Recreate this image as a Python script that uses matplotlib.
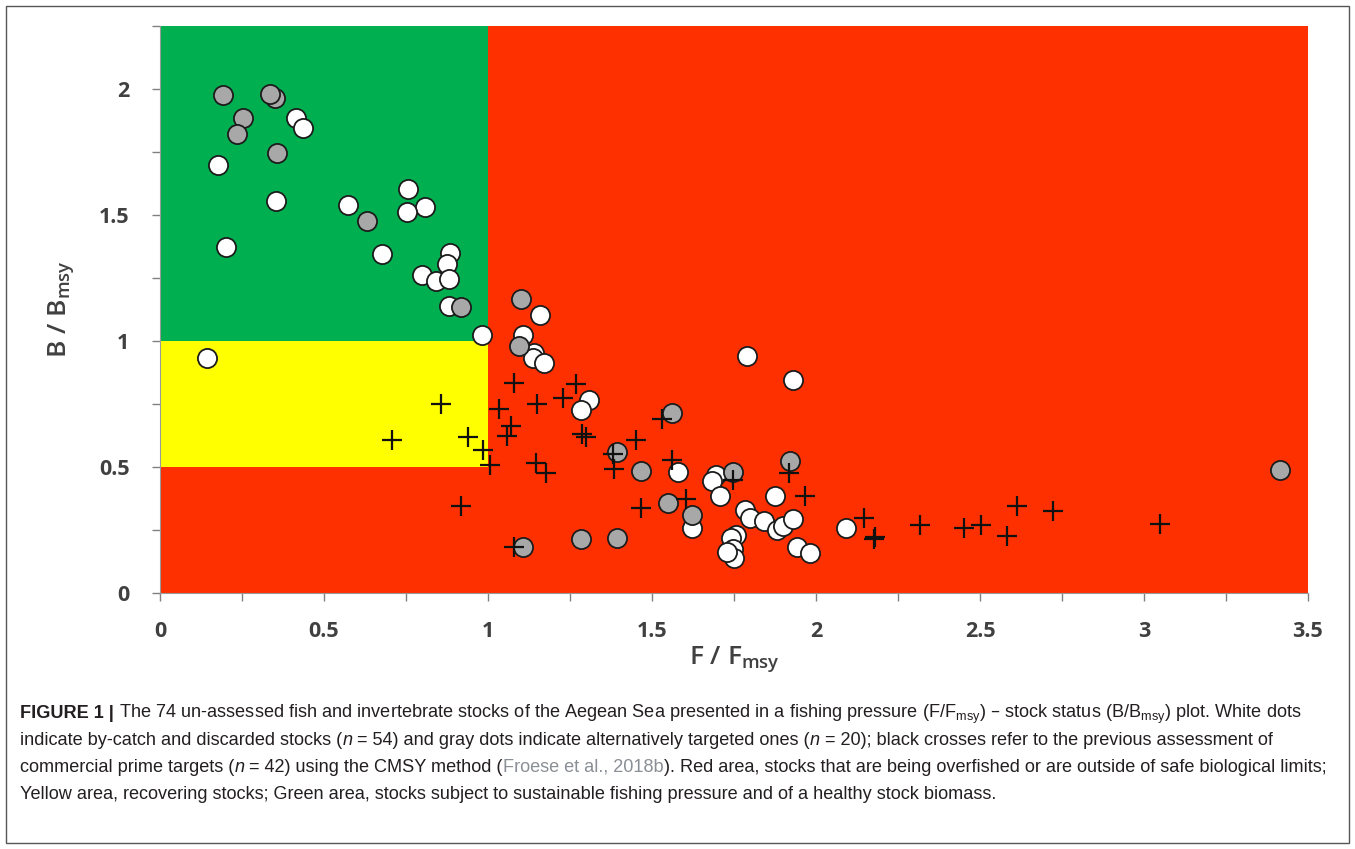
import numpy as np
import matplotlib
matplotlib.use("Agg")
import matplotlib.pyplot as plt
from matplotlib import font_manager
from matplotlib.patches import Rectangle

# --- data (F/Fmsy, B/Bmsy) ---
white_f = [0.414, 0.436, 0.178, 0.353, 0.573, 0.756, 0.807, 0.753, 0.201, 0.678,
           0.885, 0.874, 0.800, 0.840, 0.880, 0.880, 0.982, 0.144, 1.160, 1.106,
           1.141, 1.136, 1.172, 1.309, 1.283, 1.578, 1.623, 1.789, 1.930, 1.696,
           1.682, 1.706, 1.875, 1.785, 1.800, 1.840, 1.880, 1.900, 1.930, 1.755,
           1.740, 1.747, 1.750, 1.730, 1.943, 1.983, 2.092]
white_b = [1.883, 1.847, 1.700, 1.556, 1.540, 1.605, 1.530, 1.510, 1.375, 1.344,
           1.351, 1.304, 1.260, 1.238, 1.245, 1.138, 1.023, 0.933, 1.103, 1.022,
           0.953, 0.933, 0.913, 0.767, 0.728, 0.482, 0.257, 0.940, 0.847, 0.469,
           0.443, 0.383, 0.383, 0.330, 0.297, 0.284, 0.250, 0.264, 0.293, 0.231,
           0.218, 0.174, 0.138, 0.164, 0.184, 0.158, 0.257]

gray_f = [0.193, 0.350, 0.335, 0.254, 0.235, 0.357, 0.631, 0.918, 1.100, 1.096,
          1.562, 1.392, 1.466, 1.549, 1.623, 1.108, 1.283, 1.392, 1.922, 1.747,
          3.415]
gray_b = [1.976, 1.963, 1.980, 1.883, 1.820, 1.746, 1.476, 1.136, 1.165, 0.979,
          0.714, 0.558, 0.485, 0.357, 0.310, 0.184, 0.215, 0.220, 0.522, 0.482,
          0.489]

cross_f = [0.708, 0.857, 0.940, 0.984, 1.005, 0.918, 1.078, 1.268, 1.033, 1.148,
           1.230, 1.070, 1.057, 1.288, 1.300, 1.532, 1.450, 1.380, 1.146, 1.177,
           1.385, 1.562, 1.466, 1.603, 1.080, 1.917, 1.747, 1.966, 2.146, 2.177,
           2.180, 2.318, 2.450, 2.504, 2.582, 2.612, 2.724, 3.050]
cross_b = [0.606, 0.751, 0.619, 0.566, 0.509, 0.346, 0.834, 0.831, 0.730, 0.751,
           0.774, 0.664, 0.622, 0.630, 0.620, 0.690, 0.606, 0.553, 0.516, 0.476,
           0.492, 0.529, 0.337, 0.373, 0.182, 0.476, 0.449, 0.386, 0.297, 0.213,
           0.224, 0.270, 0.257, 0.270, 0.227, 0.346, 0.326, 0.274]

x_ticks = [0, 0.5, 1, 1.5, 2, 2.5, 3, 3.5]
x_tick_labels = ["0", "0.5", "1", "1.5", "2", "2.5", "3", "3.5"]
y_ticks = [0, 0.5, 1, 1.5, 2]
y_tick_labels = ["0", "0.5", "1", "1.5", "2"]

RED = "#FF3000"
GREEN = "#00B050"
YELLOW = "#FFFF00"
TXT = "#404040"

names = {f.name for f in font_manager.fontManager.ttflist}
cap_font = "Liberation Sans Narrow" if "Liberation Sans Narrow" in names else "Liberation Sans"
tick_font = "Open Sans"

fig = plt.figure(figsize=(13.55, 8.49), dpi=100)
W, H = 1355, 849
ax = fig.add_axes([160 / W, 1 - 593 / H, (1308 - 160) / W, (593 - 26) / H])

xmax, ymax = 3.5, 2.25
ax.set_xlim(0, xmax)
ax.set_ylim(0, ymax)

# coloured zones
ax.add_patch(Rectangle((0, 0), xmax, ymax, color=RED, zorder=0, lw=0))
ax.add_patch(Rectangle((0, 1), 1, ymax - 1, color=GREEN, zorder=0.5, lw=0))
ax.add_patch(Rectangle((0, 0.5), 1, 0.5, color=YELLOW, zorder=0.5, lw=0))

ax.scatter(white_f, white_b, s=190, facecolor="white", edgecolor="#1c1c1c",
           linewidth=1.3, zorder=3)
ax.scatter(gray_f, gray_b, s=190, facecolor="#a8a8a8", edgecolor="#1c1c1c",
           linewidth=1.3, zorder=4)
ax.scatter(cross_f, cross_b, s=200, marker="+", color="#111111",
           linewidth=1.6, zorder=5)

ax.set_xticks(x_ticks)
ax.set_xticklabels(x_tick_labels)
ax.set_yticks(y_ticks)
ax.set_yticklabels(y_tick_labels)
ax.set_xticks(np.arange(0, 3.51, 0.25), minor=True)
ax.set_yticks(np.arange(0, 2.26, 0.25), minor=True)
ax.tick_params(which="both", direction="out", length=6, width=1, color="#808080")
ax.tick_params(axis="x", which="major", pad=14)
ax.tick_params(axis="y", which="major", pad=16)
for lab in ax.get_xticklabels() + ax.get_yticklabels():
    lab.set_fontfamily(tick_font)
    lab.set_fontweight("bold")
    lab.set_fontsize(15.5)
    lab.set_color(TXT)

for side in ["top", "right"]:
    ax.spines[side].set_visible(False)
for side in ["left", "bottom"]:
    ax.spines[side].set_color("#9a9a9a")
    ax.spines[side].set_linewidth(0.8)

ax.set_xlabel(r"F / F$_{\mathregular{msy}}$", fontfamily=tick_font, fontsize=19,
              fontweight="semibold", color=TXT, labelpad=2)
ax.set_ylabel(r"B / B$_{\mathregular{msy}}$", fontfamily=tick_font, fontsize=19,
              fontweight="semibold", color=TXT, labelpad=16)

# figure frame
fig.patches.append(Rectangle((6 / W, 6 / H), 1 - 12 / W, 1 - 12 / H, fill=False,
                             edgecolor="#555555", lw=1, transform=fig.transFigure))

# caption, written segment by segment so bold / italic / grey parts line up
renderer = fig.canvas.get_renderer()


def seg_width(txt, size, **kw):
    t1 = fig.text(0, 0, "|" + txt + "|", fontsize=size, family=cap_font, **kw)
    t2 = fig.text(0, 0, "||", fontsize=size, family=cap_font, **kw)
    w = t1.get_window_extent(renderer).width - t2.get_window_extent(renderer).width
    t1.remove()
    t2.remove()
    return w


lines = [
    [("FIGURE 1 |", {"weight": "bold"}),
     (" The 74 un-assessed fish and invertebrate stocks of the Aegean Sea presented in a fishing pressure (F/F$_{\\mathregular{msy}}$) \u2013 stock status (B/B$_{\\mathregular{msy}}$) plot. White dots", {})],
    [("indicate by-catch and discarded stocks (", {}), ("n", {"style": "italic"}),
     (" = 54) and gray dots indicate alternatively targeted ones (", {}), ("n", {"style": "italic"}),
     (" = 20); black crosses refer to the previous assessment of", {})],
    [("commercial prime targets (", {}), ("n", {"style": "italic"}),
     (" = 42) using the CMSY method (", {}), ("Froese et al., 2018b", {"color": "#8a8f96"}),
     ("). Red area, stocks that are being overfished or are outside of safe biological limits;", {})],
    [("Yellow area, recovering stocks; Green area, stocks subject to sustainable fishing pressure and of a healthy stock biomass.", {})],
]

# fit the caption size so that the longest line spans the width used in the reference
size = 12.0
widest = max(sum(seg_width(t, size, **{k: v for k, v in kw.items() if k != "color"})
                 for t, kw in segs) for segs in lines)
size = size * 1310 / widest

baselines = [718, 745, 772, 799]
for segs, yb in zip(lines, baselines):
    x = 20
    for txt, kw in segs:
        kw = dict(kw)
        col = kw.pop("color", "#231f20")
        fig.text(x / W, 1 - yb / H, txt, fontsize=size, family=cap_font,
                 color=col, va="baseline", ha="left", **kw)
        x += seg_width(txt, size, **kw)

fig.savefig("out.png", dpi=100)
